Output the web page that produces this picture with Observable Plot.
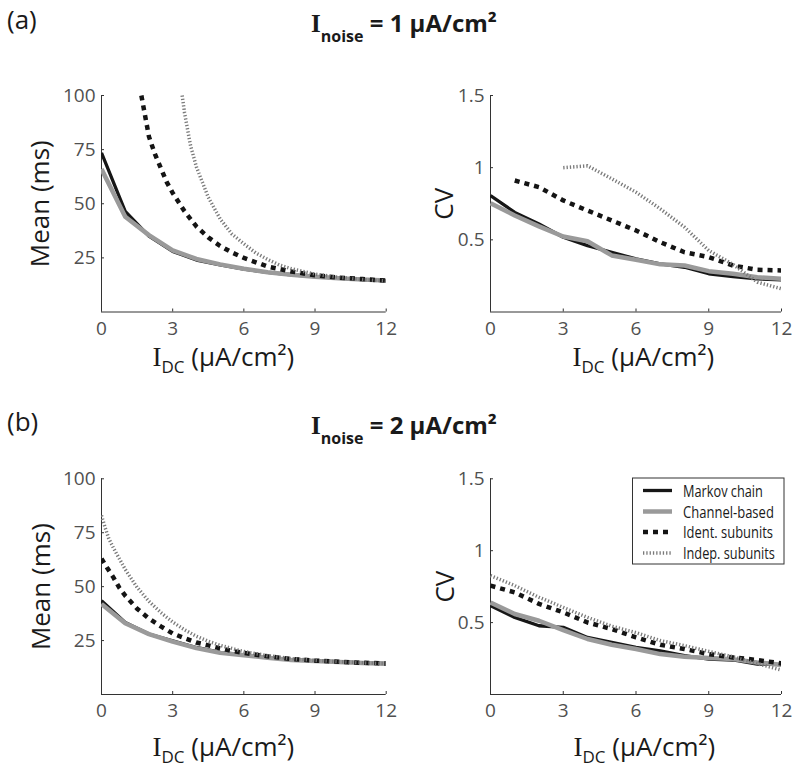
<!DOCTYPE html>
<html><head><meta charset="utf-8">
<script src="https://cdn.jsdelivr.net/npm/d3@7"></script>
<script src="https://cdn.jsdelivr.net/npm/@observablehq/plot@0.6"></script>
<style>
html,body{margin:0;padding:0;background:#fff;overflow:hidden}
#wrap{position:relative;width:800px;height:774px;font-family:"Open Sans",sans-serif}
#wrap svg{position:absolute}
</style></head><body><div id="wrap"></div>
<script>
// ---------- data ----------
const xTicks = [0, 3, 6, 9, 12];
const meanTicks = [25, 50, 75, 100];
const cvTicks = [0.5, 1, 1.5];
const cvTickLabels = ["0.5", "1", "1.5"];
const seriesNames = ["Markov chain", "Channel-based", "Ident. subunits", "Indep. subunits"];
const idc = [0, 1, 2, 3, 4, 5, 6, 7, 8, 9, 10, 11, 12];

// (a) Inoise = 1, mean ISI
const aMeanMarkov  = [73.5, 46.5, 35, 28, 24, 21.8, 19.8, 18.3, 17.2, 16.3, 15.6, 15, 14.5];
const aMeanChannel = [66, 44, 35.5, 28.5, 24.5, 22, 20, 18.4, 17.2, 16.3, 15.6, 15, 14.5];
const aMeanIdentX  = [1.68, 2, 2.25, 2.5, 2.75, 3, 3.5, 4, 4.5, 5, 5.5, 6, 7, 8, 9, 10, 11, 12];
const aMeanIdent   = [100, 81, 73, 66.5, 60, 55, 46.5, 39.5, 34.5, 30.5, 27.5, 25, 21, 18.7, 17, 15.9, 15.2, 14.5];
const aMeanIndepX  = [3.4, 3.5, 3.75, 4, 4.5, 5, 5.5, 6, 6.5, 7, 7.5, 8, 9, 10, 11, 12];
const aMeanIndep   = [100, 92, 77, 67, 53, 43, 36, 31.5, 27.3, 24.3, 21.7, 20, 17.5, 16, 15, 14.3];

// (a) Inoise = 1, CV
const aCvMarkov  = [0.807, 0.69, 0.61, 0.518, 0.46, 0.414, 0.368, 0.334, 0.31, 0.265, 0.246, 0.23, 0.223];
const aCvChannel = [0.754, 0.669, 0.593, 0.523, 0.49, 0.392, 0.362, 0.33, 0.322, 0.283, 0.265, 0.241, 0.23];
const aCvIdentX  = [1, 2, 3, 4, 5, 6, 7, 8, 9, 10, 11, 12];
const aCvIdent   = [0.911, 0.865, 0.773, 0.703, 0.634, 0.565, 0.484, 0.414, 0.38, 0.322, 0.292, 0.288];
const aCvIndepX  = [3, 4, 5, 6, 7, 8, 9, 10, 11, 12];
const aCvIndep   = [1.0, 1.013, 0.923, 0.83, 0.715, 0.588, 0.426, 0.33, 0.207, 0.161];

// (b) Inoise = 2, mean ISI
const bMeanMarkov  = [43.5, 33.4, 28, 24.9, 21.8, 19.5, 18.4, 17.2, 16.1, 15.6, 15.2, 14.7, 14.4];
const bMeanChannel = [42, 33, 28, 24.5, 21.5, 19.3, 18.2, 17, 16, 15.5, 15.1, 14.6, 14.3];
const bMeanIdentX  = [0, 0.25, 0.5, 0.75, 1, 1.5, 2, 2.5, 3, 3.5, 4, 4.5, 5, 5.5, 6, 7, 8, 9, 10, 11, 12];
const bMeanIdent   = [63, 58.5, 54.3, 49.5, 45.8, 39.8, 35.2, 31.6, 28.3, 26.1, 24.1, 22.8, 21.4, 20.2, 19.3, 17.7, 16.5, 15.7, 15.2, 14.7, 14.4];
const bMeanIndepX  = [0, 0.15, 0.3, 0.5, 0.75, 1, 1.5, 2, 2.5, 3, 3.5, 4, 4.5, 5, 6, 7, 8, 9, 10, 11, 12];
const bMeanIndep   = [83, 77.5, 72.5, 68, 63, 58, 49.7, 43.2, 38, 33.6, 30, 27, 24.7, 22.8, 19.9, 18, 16.6, 15.8, 15.2, 14.7, 14.3];

// (b) Inoise = 2, CV
const bCvMarkov  = [0.618, 0.536, 0.478, 0.467, 0.397, 0.362, 0.327, 0.304, 0.27, 0.246, 0.24, 0.212, 0.207];
const bCvChannel = [0.64, 0.56, 0.513, 0.448, 0.386, 0.346, 0.316, 0.281, 0.263, 0.253, 0.246, 0.223, 0.207];
const bCvIdent   = [0.757, 0.71, 0.63, 0.571, 0.501, 0.455, 0.397, 0.346, 0.316, 0.281, 0.258, 0.24, 0.216];
const bCvIndep   = [0.827, 0.757, 0.676, 0.606, 0.536, 0.475, 0.43, 0.375, 0.34, 0.3, 0.262, 0.215, 0.17];

// ---------- styles ----------
const lineStyles = [
  {stroke: "#161616", strokeWidth: 3.3, strokeLinejoin: "round", strokeLinecap: "butt"},
  {stroke: "#9a9a9a", strokeWidth: 4.5, strokeLinejoin: "round", strokeLinecap: "butt"},
  {stroke: "#141414", strokeWidth: 4.5, strokeDasharray: "5,5", strokeLinejoin: "miter", strokeLinecap: "butt"},
  {stroke: "#7a7a7a", strokeWidth: 3.5, strokeDasharray: "1.3,2", strokeLinejoin: "miter", strokeLinecap: "butt"}
];
const legendWidths = [80, 91, 90, 92];

const wrap = document.getElementById("wrap");
const NS = "http://www.w3.org/2000/svg";
const SERIF = "'Liberation Serif','DejaVu Serif',serif";
const SANS = "'Open Sans',sans-serif";

function rows(xs, ys) { return xs.map((x, i) => ({x, y: ys[i]})); }

function panel(cfg) {
  const {left, top, width, height, mt, mb, ml, mr, yDomain, yTicks, yFmt, ylabel, ylabelDx, xlabelDx, xlabelDy, series} = cfg;
  const marks = [
    Plot.ruleX([0], {stroke: "#333", strokeWidth: 1}),
    Plot.ruleY([yDomain[0]], {stroke: "#333", strokeWidth: 1}),
    Plot.axisX(xTicks, {tickSize: -3, tickPadding: 12, label: null, tickFormat: d => String(d), stroke: "#333", fill: "#505050", fontSize: 19}),
    Plot.axisY(yTicks, {tickSize: -3, tickPadding: 9, label: null, tickFormat: yFmt, stroke: "#333", fill: "#505050", fontSize: 19}),
    ...series.map((s, k) => Plot.line(rows(s[0], s[1]), {x: "x", y: "y", clip: true, ...lineStyles[k]})),
    Plot.text([ylabel], {frameAnchor: "left", textAnchor: "middle", rotate: -90, dx: ylabelDx, fontSize: 26, fill: "#1a1a1a", lineAnchor: "middle"}),
    Plot.text(["__XL__"], {frameAnchor: "bottom-left", textAnchor: "start", lineAnchor: "bottom", dx: xlabelDx, dy: xlabelDy, fontSize: 26, fill: "#1a1a1a"})
  ];
  const p = Plot.plot({
    width, height, marginTop: mt, marginBottom: mb, marginLeft: ml, marginRight: mr,
    x: {domain: [0, 12]}, y: {domain: yDomain},
    style: {fontFamily: SANS, fontSize: "19px", background: "transparent", overflow: "visible"},
    marks
  });
  p.style.left = left + "px";
  p.style.top = top + "px";
  // rich x label: I_DC (μA/cm²)
  p.querySelectorAll("text").forEach(t => {
    if (t.textContent === "__XL__") {
      t.textContent = "";
      const parts = [
        {s: "I", ff: SERIF, fs: 27},
        {s: "DC", fs: 17, dy: 7},
        {s: " (μA/cm²)", dy: -7}
      ];
      for (const q of parts) {
        const ts = document.createElementNS(NS, "tspan");
        ts.textContent = q.s;
        if (q.ff) ts.setAttribute("font-family", q.ff);
        if (q.fs) ts.setAttribute("font-size", q.fs);
        if (q.dy) ts.setAttribute("dy", q.dy);
        t.appendChild(ts);
      }
    }
  });
  wrap.appendChild(p);
}

const cvFmt = d => cvTickLabels[cvTicks.indexOf(d)];

// (a) row
panel({left: 0, top: 50, width: 400, height: 340, mt: 45, mb: 78.5, ml: 101, mr: 14.3,
  yDomain: [0, 100], yTicks: meanTicks, yFmt: d => String(d), ylabel: "Mean (ms)", ylabelDx: -61,
  xlabelDx: 51, xlabelDy: 53.5,
  series: [[idc, aMeanMarkov], [idc, aMeanChannel], [aMeanIdentX, aMeanIdent], [aMeanIndepX, aMeanIndep]]});
panel({left: 400, top: 50, width: 400, height: 340, mt: 45, mb: 78.5, ml: 90, mr: 19,
  yDomain: [0, 1.5], yTicks: cvTicks, yFmt: cvFmt, ylabel: "CV", ylabelDx: -46,
  xlabelDx: 82, xlabelDy: 53.5,
  series: [[idc, aCvMarkov], [idc, aCvChannel], [aCvIdentX, aCvIdent], [aCvIndepX, aCvIndep]]});
// (b) row
panel({left: 0, top: 440, width: 400, height: 334, mt: 38.3, mb: 80, ml: 101, mr: 14.3,
  yDomain: [0, 100], yTicks: meanTicks, yFmt: d => String(d), ylabel: "Mean (ms)", ylabelDx: -60,
  xlabelDx: 51, xlabelDy: 61,
  series: [[idc, bMeanMarkov], [idc, bMeanChannel], [bMeanIdentX, bMeanIdent], [bMeanIndepX, bMeanIndep]]});
panel({left: 400, top: 440, width: 400, height: 334, mt: 38.3, mb: 80, ml: 90, mr: 19,
  yDomain: [0, 1.5], yTicks: cvTicks, yFmt: cvFmt, ylabel: "CV", ylabelDx: -45,
  xlabelDx: 83, xlabelDy: 61,
  series: [[idc, bCvMarkov], [idc, bCvChannel], [idc, bCvIdent], [idc, bCvIndep]]});

// ---------- titles and legend overlay ----------
const ov = d3.select(wrap).append("svg").attr("width", 800).attr("height", 774)
  .style("left", "0px").style("top", "0px").style("pointer-events", "none");

function title(letter, yBase, noise) {
  ov.append("text").attr("x", 7).attr("y", yBase - 3).attr("font-size", 26).attr("fill", "#1a1a1a")
    .attr("font-family", SANS).text(letter);
  const t = ov.append("text").attr("x", 311).attr("y", yBase).attr("font-size", 24).attr("font-weight", "bold")
    .attr("fill", "#1a1a1a").attr("font-family", SANS);
  t.append("tspan").attr("font-family", SERIF).attr("font-size", 25).text("I");
  t.append("tspan").attr("font-size", 16).attr("dy", 10).text("noise");
  t.append("tspan").attr("dy", -10).text(` = ${noise} μA/cm²`);
}
title("(a)", 31.5, 1);
title("(b)", 434, 2);

// legend (panel b, CV)
const lg = ov.append("g");
lg.append("rect").attr("x", 632.5).attr("y", 478).attr("width", 151.5).attr("height", 86)
  .attr("fill", "#fff").attr("stroke", "#333").attr("stroke-width", 1);
const legendY = [490.5, 511.5, 532, 553];
seriesNames.forEach((name, i) => {
  const st = lineStyles[i];
  lg.append("line").attr("x1", 643).attr("x2", 672).attr("y1", legendY[i]).attr("y2", legendY[i])
    .attr("stroke", st.stroke).attr("stroke-width", st.strokeWidth)
    .attr("stroke-dasharray", st.strokeDasharray || null);
  const g = lg.append("g");
  const t = g.append("text").attr("x", 0).attr("y", 0).attr("font-size", 17)
    .attr("font-family", SANS).attr("fill", "#1a1a1a").text(name);
  const w = t.node().getComputedTextLength() || legendWidths[i];
  g.attr("transform", `translate(683,${legendY[i] + 6}) scale(${legendWidths[i] / w},1)`);
});
</script>
</body></html>
